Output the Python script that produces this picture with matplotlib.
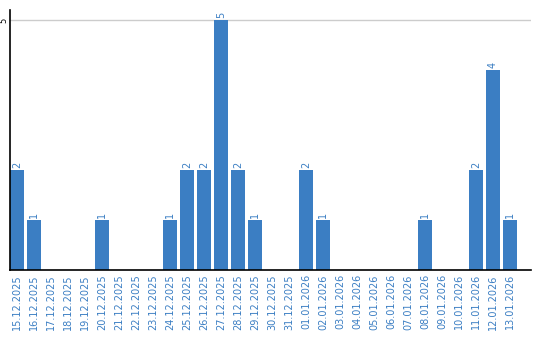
import matplotlib
matplotlib.use('Agg')
from matplotlib import pyplot as plt
import numpy as np

dates = ['15.12.2025', '16.12.2025', '17.12.2025', '18.12.2025', '19.12.2025',
         '20.12.2025', '21.12.2025', '22.12.2025', '23.12.2025', '24.12.2025',
         '25.12.2025', '26.12.2025', '27.12.2025', '28.12.2025', '29.12.2025',
         '30.12.2025', '31.12.2025', '01.01.2026', '02.01.2026', '03.01.2026',
         '04.01.2026', '05.01.2026', '06.01.2026', '07.01.2026', '08.01.2026',
         '09.01.2026', '10.01.2026', '11.01.2026', '12.01.2026', '13.01.2026']
counts = [2, 1, 0, 0, 0, 1, 0, 0, 0, 1,
          2, 2, 5, 2, 1, 0, 0, 2, 1, 0,
          0, 0, 0, 0, 1, 0, 0, 2, 4, 1]

blue = '#3b7ec3'
w = 0.82

fig = plt.figure(figsize=(5.4, 3.4), dpi=100)
ax = fig.add_axes([10/540, 70/340, 521/540, 260/340])

x = np.arange(len(dates))
ax.bar(x, counts, width=w, align='edge', color=blue, zorder=2)

for xi, c in zip(x, counts):
    if c > 0:
        ax.text(xi + w/2, c + 0.04, str(c), rotation=90, ha='center', va='bottom',
                fontsize=7, color=blue, clip_on=False)

ax.set_xlim(0, 30.65)
ax.set_ylim(0, 5.2)
ax.set_xticks(x + w/2)
ax.set_xticklabels(dates, rotation=90, fontsize=7, color=blue)
ax.set_yticks([5])
ax.set_yticklabels(['5'], rotation=90, fontsize=6, va='center')
ax.tick_params(axis='x', length=0, pad=3)
ax.tick_params(axis='y', length=0, pad=1)
ax.grid(axis='y', color='#cccccc', linewidth=1, zorder=0)

for s in ['top', 'right']:
    ax.spines[s].set_visible(False)
ax.spines['left'].set_color('black')
ax.spines['bottom'].set_color('black')
ax.spines['left'].set_linewidth(1.2)
ax.spines['bottom'].set_linewidth(1.2)

fig.savefig('out.png', dpi=100)
